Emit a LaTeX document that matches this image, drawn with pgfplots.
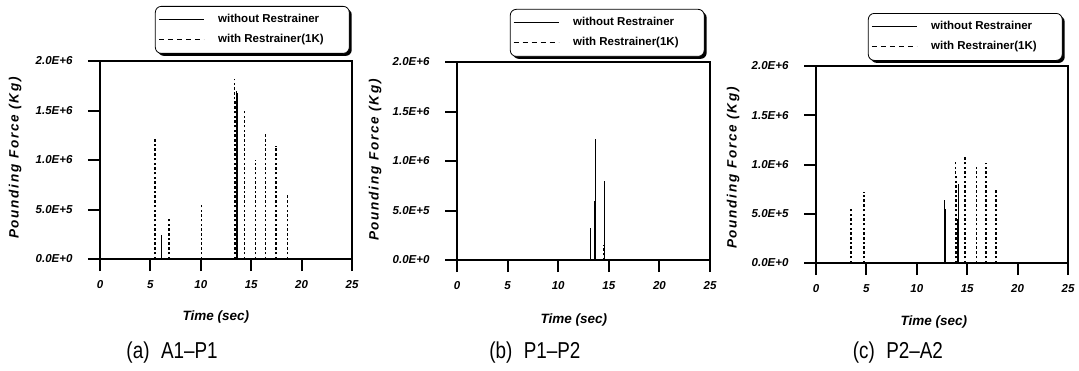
\documentclass[border=0pt]{standalone}
\usepackage{pgfplots}
\pgfplotsset{compat=1.18}
\usepackage{fontspec}
\usepackage{graphicx}
\setmainfont{Liberation Sans}
\newfontfamily\spacedfont[LetterSpace=13]{Liberation Sans}
\usetikzlibrary{shadows}
\makeatletter
\tikzset{no preactions/.code={\def\tikz@preactions{}}}
\makeatother

\newcommand{\capfont}{\fontsize{23}{26}\selectfont}
\pgfplotsset{
 pf/.style={
  scale only axis, width=252pt, height=198pt,
  xmin=0, xmax=25, ymin=0, ymax=2e6,
  xtick={0,5,10,15,20,25},
  xticklabels={0,5,10,15,20,25},
  ytick={0,5e5,1e6,1.5e6,2e6},
  yticklabels={0.0E+0,5.0E+5,1.0E+6,1.5E+6,2.0E+6},
  scaled y ticks=false,
  tick align=outside, xtick pos=bottom, ytick pos=left,
  major tick length=12pt,
  major tick style={draw=black, line width=2pt},
  axis line style={line width=1.1pt},
  tick label style={font=\fontsize{11.5}{12}\selectfont\bfseries\itshape},
  yticklabel style={anchor=east, xshift=-12pt},
  xticklabel style={anchor=north, yshift=-6pt},
  xlabel={Time (sec)},
  ylabel={\spacedfont\bfseries\itshape Pounding Force (Kg)},
  xlabel style={font=\fontsize{13.5}{14}\selectfont\bfseries\itshape, anchor=center},
  ylabel style={font=\fontsize{13.5}{14}\selectfont, anchor=center},
  legend cell align=left,
  legend image code/.code={\draw[no preactions, #1] (0pt,0pt) -- (45pt,0pt);},
  legend style={anchor=north west, draw=black, line width=0.8pt, rounded corners=6pt,
    drop shadow={shadow xshift=2.5pt, shadow yshift=-2.5pt, fill=black, opacity=1},
    fill=white, inner xsep=3pt, inner ysep=8pt, row sep=9pt, column sep=14pt,
    font=\fontsize{11.5}{12}\selectfont\bfseries,
    nodes={inner sep=0pt, text height=8.5pt, text depth=2.5pt}},
 },
 solidspk/.style={ycomb, black, mark=none, line width=0.9pt, forget plot},
 dashspk/.style={ycomb, black, mark=none, line width=1.2pt, dash pattern=on 2.5pt off 2.2pt, forget plot},
 base/.style={black, mark=none, line width=0.9pt, forget plot},
}
\newcommand{\legentries}{%
  \addlegendimage{black, line width=0.9pt}
  \addlegendentry{\makebox[128pt][l]{without Restrainer}}
  \addlegendimage{black, line width=0.9pt, dash pattern=on 5pt off 4pt}
  \addlegendentry{\makebox[128pt][l]{with Restrainer(1K)}}
}

\begin{document}
\begin{tikzpicture}
\useasboundingbox (0,0) rectangle (1079pt,370pt);

% (a) A1-P1
\begin{axis}[pf, at={(100pt,111pt)}, anchor=south west,
  legend style={at={(axis description cs:0.218,1.278)}},
  xlabel style={at={(axis description cs:0.46,-0.293)}},
  ylabel style={at={(axis description cs:-0.337,0.51)}},
  after end axis/.code={%
    \node[font=\capfont] at (axis description cs:0.286,-0.47) {\scalebox{0.82}[1]{(a)\hspace{14pt}A1–P1}};}]
\legentries
\addplot[base] coordinates {(0,0) (25,0)};
\addplot[solidspk] coordinates {(6.05,2.4e5) (13.55,1.70e6) (13.6,1.68e6) (13.65,1.2e6)};
\addplot[dashspk] coordinates {(5.46,1.22e6) (6.85,4.2e5) (10.1,5.6e5) (13.35,1.82e6) (13.42,1.6e6) (13.48,1.3e6) (14.3,1.5e6) (15.4,1.0e6) (16.4,1.26e6) (17.46,1.14e6) (18.6,6.6e5)};
\end{axis}

% (b) P1-P2
\begin{axis}[pf, at={(457pt,110pt)}, anchor=south west, width=253pt,
  legend style={at={(axis description cs:0.209,1.268)}},
  xlabel style={at={(axis description cs:0.462,-0.303)}},
  ylabel style={at={(axis description cs:-0.324,0.505)}},
  after end axis/.code={%
    \node[font=\capfont] at (axis description cs:0.308,-0.465) {\scalebox{0.82}[1]{(b)\hspace{14pt}P1–P2}};}]
\legentries
\addplot[base] coordinates {(0,0) (25,0)};
\addplot[solidspk] coordinates {(13.14,3.2e5) (13.57,6.0e5) (13.6,5.0e4) (13.7,1.22e6) (14.6,8.0e5)};
\addplot[dashspk] coordinates {(13.62,4.0e4) (14.5,1.5e5) (14.55,1.2e5)};
\end{axis}

% (c) P2-A2
\begin{axis}[pf, at={(816pt,107pt)}, anchor=south west, height=197pt,
  legend style={at={(axis description cs:0.206,1.269)}},
  xlabel style={at={(axis description cs:0.468,-0.30)}},
  ylabel style={at={(axis description cs:-0.329,0.482)}},
  after end axis/.code={%
    \node[font=\capfont] at (axis description cs:0.325,-0.457) {\scalebox{0.82}[1]{(c)\hspace{14pt}P2–A2}};}]
\legentries
\addplot[base] coordinates {(0,0) (25,0)};
\addplot[solidspk] coordinates {(12.75,6.4e5) (12.8,5.5e5) (14.05,4.5e5) (14.1,8.0e5)};
\addplot[dashspk] coordinates {(3.47,5.6e5) (4.76,7.2e5) (13.86,1.03e6) (13.92,9.0e5) (14.78,1.08e6) (15.94,1.0e6) (16.86,1.02e6) (17.86,7.4e5)};
\end{axis}
\end{tikzpicture}
\end{document}
